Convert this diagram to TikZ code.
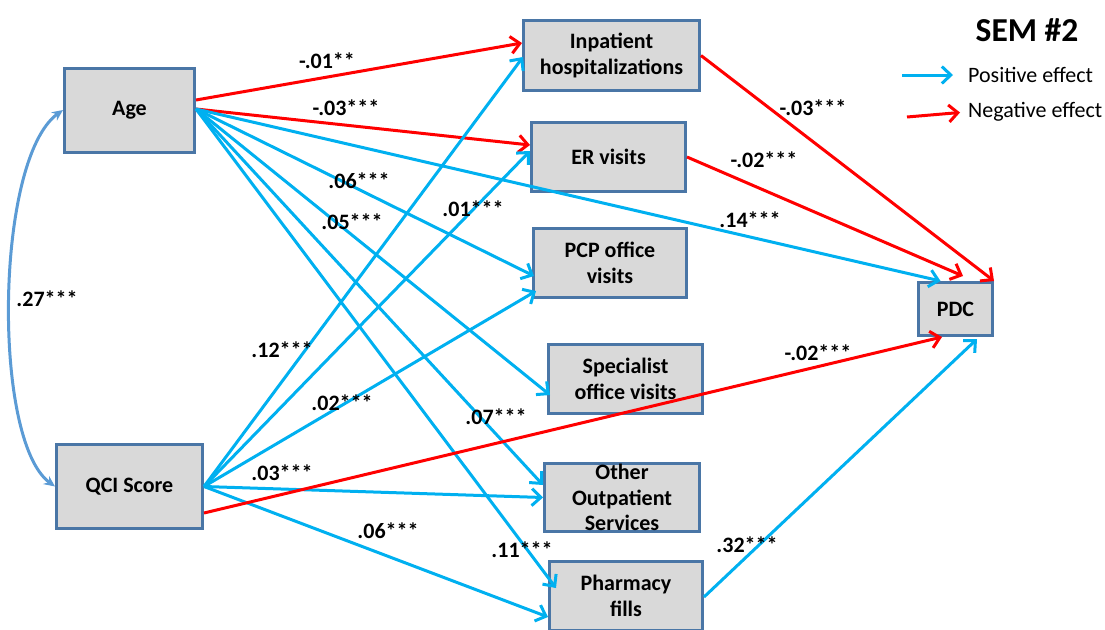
\documentclass[tikz,border=0pt]{standalone}
\usepackage{fontspec}
\setmainfont{Carlito}
\usetikzlibrary{arrows.meta}
\definecolor{posc}{HTML}{00B0F0}
\definecolor{negc}{HTML}{FF0000}
\definecolor{boxborder}{HTML}{4A76A6}
\definecolor{boxfill}{HTML}{D9D9D9}
\definecolor{corrc}{HTML}{5B9BD5}
\begin{document}
\begin{tikzpicture}[x=1pt,y=-1pt,
  box/.style={draw=boxborder, fill=boxfill, line width=3pt, inner sep=0pt, align=center,
    font=\fontsize{22}{25.5}\selectfont\bfseries},
  lab/.style={inner sep=0pt, font=\fontsize{22}{26}\selectfont\bfseries},
  legtext/.style={inner sep=0pt, anchor=west, font=\fontsize{22}{26}\selectfont},
  barb/.style={-{Straight Barb[length=9pt,width=17pt]}},
  posarr/.style={draw=posc, line width=3pt, barb},
  negarr/.style={draw=negc, line width=3pt, barb},
  corrarr/.style={draw=corrc, line width=3pt, {Stealth[length=11pt,width=10pt]}-{Stealth[length=11pt,width=10pt]}}]
\useasboundingbox (0,0) rectangle (1105,629);

% boxes
\node[box, minimum width=130pt, minimum height=84pt] (age) at (129.5,110) {Age};
\node[box, minimum width=146pt, minimum height=84pt] (qci) at (129.5,486.5) {QCI Score};
\node[box, minimum width=176pt, minimum height=70pt] (inp) at (611.5,55.5) {Inpatient\\hospitalizations};
\node[box, minimum width=154pt, minimum height=69pt] (er) at (608.5,157) {ER visits};
\node[box, minimum width=153pt, minimum height=69pt] (pcp) at (610,263) {PCP office\\visits};
\node[box, minimum width=154pt, minimum height=69pt] (spec) at (625.5,379) {Specialist\\office visits};
\node[box, minimum width=155pt, minimum height=68pt] (oth) at (622,497.5) {Other\\Outpatient\\Services};
\node[box, minimum width=153pt, minimum height=69pt] (pharm) at (626,596) {Pharmacy\\fills};
\node[box, minimum width=74pt, minimum height=53pt] (pdc) at (955.5,309) {PDC};

% correlation
\draw[corrarr] (age.west) .. controls +(-68,49) and +(-63,-46) .. (qci.west);

% Age paths
\draw[negarr] ([yshift=10pt]age.east) -- ([yshift=12.5pt]inp.west);
\draw[negarr] ([yshift=1pt]age.east) -- ([yshift=12pt]er.west);
\draw[posarr] ([yshift=1pt]age.east) -- ([xshift=2pt,yshift=-13pt]pcp.west);
\draw[posarr] ([yshift=1pt]age.east) -- ([xshift=3pt,yshift=-16pt]spec.west);
\draw[posarr] ([yshift=1pt]age.east) -- ([yshift=12.5pt]oth.west);
\draw[posarr] ([yshift=1pt]age.east) -- ([xshift=8pt,yshift=8pt]pharm.west);
\draw[posarr] ([yshift=1pt]age.east) -- ([xshift=-15pt]pdc.north);

% QCI paths
\draw[posarr] (qci.east) -- ([xshift=1pt,yshift=-1.5pt]inp.west);
\draw[posarr] (qci.east) -- ([yshift=6pt]er.west);
\draw[posarr] (qci.east) -- ([xshift=4pt,yshift=-28pt]pcp.west);
\draw[posarr] (qci.east) -- (oth.west);
\draw[posarr] (qci.east) -- ([yshift=-21pt]pharm.west);
\draw[negarr] ([yshift=-26.5pt]qci.east) -- ([xshift=-13.5pt]pdc.south);

% mediator paths
\draw[negarr] (inp.east) -- (pdc.north east);
\draw[negarr] (er.east) -- ([xshift=7.5pt,yshift=5pt]pdc.north);
\draw[posarr] ([yshift=-1pt]pharm.east) -- ([xshift=21.5pt,yshift=-2pt]pdc.south);

% labels
\node[lab] (l1) at (327,61) {-.01**};
\node[lab] (l2) at (346,108) {-.03***};
\node[lab] (l3) at (359,181) {.06***};
\node[lab] (l4) at (352,222) {.05***};
\node[lab] (l5) at (473,209) {.01***};
\node[lab] (l6) at (282,350) {.12***};
\node[lab] (l7) at (342,403) {.02***};
\node[lab] (l8) at (496,417) {.07***};
\node[lab] (l9) at (282,473) {.03***};
\node[lab] (l10) at (388,531) {.06***};
\node[lab] (l11) at (522,550) {.11***};
\node[lab] (l12) at (813,108) {-.03***};
\node[lab] (l13) at (764,160) {-.02***};
\node[lab] (l14) at (750,220) {.14***};
\node[lab] (l15) at (818,353) {-.02***};
\node[lab] (l16) at (747,545) {.32***};
\node[lab] (l17) at (47,299) {.27***};

% legend
\node[inner sep=0pt, font=\fontsize{33.5}{38}\selectfont\bfseries] (title) at (1027,30) {SEM \#2};
\coordinate (lp1) at (902,75);
\coordinate (lp2) at (953,75);
\draw[posarr] (lp1) -- (lp2);
\node[legtext] (lpt) at (968,75) {Positive effect};
\coordinate (ln1) at (907,117);
\coordinate (ln2) at (960,112.5);
\draw[negarr] (ln1) -- (ln2);
\node[legtext] (lnt) at (968,112) {Negative effect};
\end{tikzpicture}
\end{document}
